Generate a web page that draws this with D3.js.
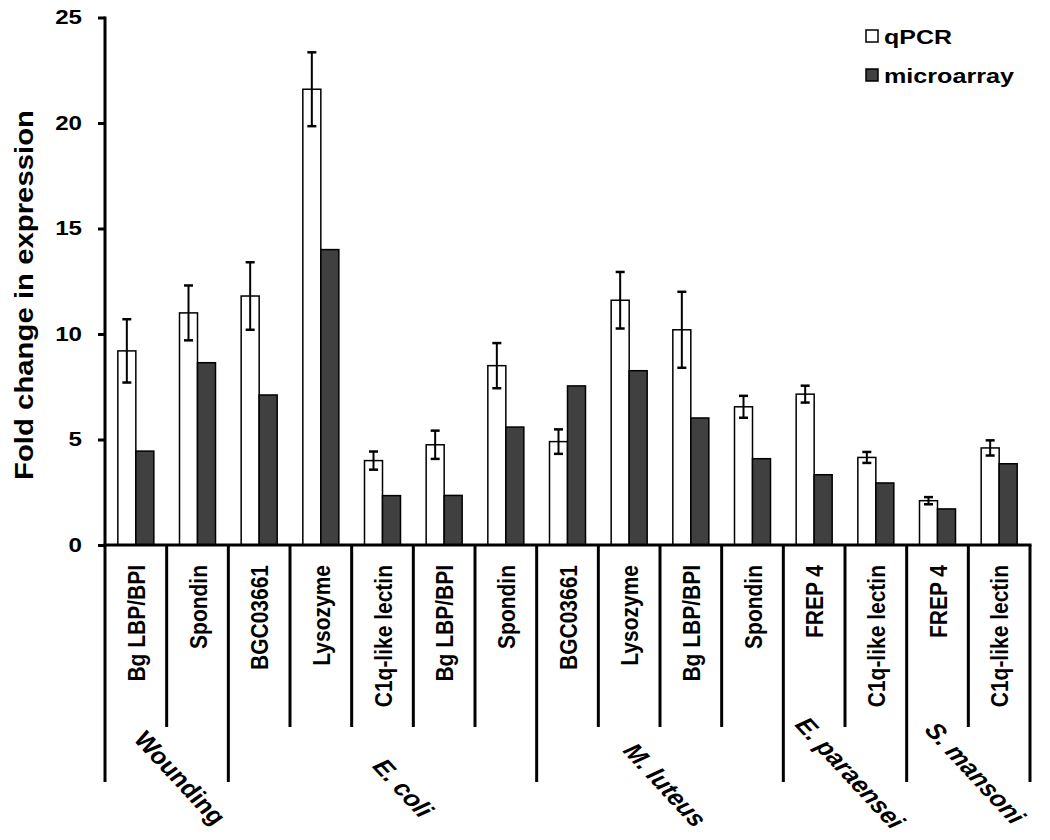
<!DOCTYPE html>
<html>
<head>
<meta charset="utf-8">
<script src="https://cdn.jsdelivr.net/npm/d3@7"></script>
<style>
  html, body { margin: 0; padding: 0; background: #fff; }
  svg { display: block; font-family: "Liberation Sans", Arial, sans-serif; }
</style>
</head>
<body>
<svg id="chart" width="1050" height="840"></svg>
<script>
// ---- data ----
const categories = ["Bg LBP/BPI", "Spondin", "BGC03661", "Lysozyme", "C1q-like lectin",
  "Bg LBP/BPI", "Spondin", "BGC03661", "Lysozyme", "Bg LBP/BPI", "Spondin",
  "FREP 4", "C1q-like lectin", "FREP 4", "C1q-like lectin"];
const groupNames = ["Wounding", "E. coli", "M. luteus", "E. paraensei", "S. mansoni"];
const groupItalic = [false, true, true, true, true];
const groupSizes = [2, 5, 4, 2, 2];
const qpcr = [9.2, 11.0, 11.8, 21.6, 4.0, 4.75, 8.5, 4.9, 11.6, 10.2, 6.55, 7.15, 4.15, 2.1, 4.6];
const qpcrErr = [1.5, 1.3, 1.6, 1.75, 0.43, 0.67, 1.07, 0.58, 1.34, 1.8, 0.52, 0.4, 0.26, 0.17, 0.36];
const microarray = [4.45, 8.64, 7.11, 14.0, 2.34, 2.35, 5.59, 7.54, 8.26, 6.02, 4.09, 3.33, 2.94, 1.71, 3.85];
const yTicks = [0, 5, 10, 15, 20, 25];
const seriesNames = ["qPCR", "microarray"];

// ---- layout ----
const svg = d3.select("#chart");
const plotL = 105, plotR = 1030, plotT = 17.5, plotB = 545;
const x = d3.scaleBand().domain(d3.range(categories.length)).range([plotL, plotR]).padding(0);
const y = d3.scaleLinear().domain([0, 25]).range([plotB, plotT]);
const bw = 18;
const darkFill = "#404040";
const stretch = 1.15;

// y axis
const yAxis = svg.append("g").attr("transform", `translate(${plotL},0)`)
  .call(d3.axisLeft(y).tickValues(yTicks).tickSize(7).tickFormat(d3.format("d")));
yAxis.select(".domain").remove();
yAxis.selectAll(".tick line").attr("stroke", "#000").attr("stroke-width", 3);
yAxis.selectAll(".tick text").remove();
yTicks.forEach(t => {
  svg.append("text")
    .attr("transform", `translate(82,${y(t)}) scale(${stretch},1)`)
    .attr("text-anchor", "end").attr("dominant-baseline", "central")
    .attr("font-size", 21).attr("font-weight", "bold").attr("fill", "#000")
    .text(t);
});
svg.append("line").attr("x1", plotL).attr("x2", plotL).attr("y1", plotT - 1).attr("y2", plotB + 1.5)
  .attr("stroke", "#000").attr("stroke-width", 3);

// y title
svg.append("text")
  .attr("transform", `translate(24,295) scale(${stretch},1) rotate(-90)`)
  .attr("text-anchor", "middle").attr("dominant-baseline", "central")
  .attr("font-size", 23).attr("font-weight", "bold")
  .attr("textLength", 370).attr("lengthAdjust", "spacingAndGlyphs")
  .text("Fold change in expression");

// bars
const idx = d3.range(categories.length);
svg.append("g").selectAll("rect").data(idx).join("rect")
  .attr("x", i => x(i) + x.bandwidth() / 2 - bw)
  .attr("y", i => y(qpcr[i]))
  .attr("width", bw).attr("height", i => plotB - y(qpcr[i]))
  .attr("fill", "#fff").attr("stroke", "#000").attr("stroke-width", 1.5);
svg.append("g").selectAll("rect").data(idx).join("rect")
  .attr("x", i => x(i) + x.bandwidth() / 2)
  .attr("y", i => y(microarray[i]))
  .attr("width", bw).attr("height", i => plotB - y(microarray[i]))
  .attr("fill", darkFill).attr("stroke", "#000").attr("stroke-width", 1.5);

// error bars
const eg = svg.append("g").attr("stroke", "#000").attr("stroke-width", 2);
idx.forEach(i => {
  const cx = x(i) + x.bandwidth() / 2 - bw / 2;
  const y1 = y(qpcr[i] + qpcrErr[i]), y2 = y(qpcr[i] - qpcrErr[i]);
  eg.append("line").attr("x1", cx).attr("x2", cx).attr("y1", y1).attr("y2", y2);
  eg.append("line").attr("x1", cx - 4.5).attr("x2", cx + 4.5).attr("y1", y1).attr("y2", y1).attr("stroke-width", 2.5);
  eg.append("line").attr("x1", cx - 4.5).attr("x2", cx + 4.5).attr("y1", y2).attr("y2", y2).attr("stroke-width", 2.5);
});

// x axis line
svg.append("line").attr("x1", plotL - 1.5).attr("x2", plotR + 1.5).attr("y1", plotB).attr("y2", plotB)
  .attr("stroke", "#000").attr("stroke-width", 3);

// dividers
const groupBounds = [0];
groupSizes.forEach((s, k) => groupBounds.push(groupBounds[k] + s));
d3.range(categories.length + 1).forEach(i => {
  const xx = i < categories.length ? x(i) : plotR;
  const isGroup = groupBounds.includes(i);
  svg.append("line").attr("x1", xx).attr("x2", xx).attr("y1", plotB).attr("y2", isGroup ? 782 : 727)
    .attr("stroke", "#000").attr("stroke-width", 3);
});

// category labels
idx.forEach(i => {
  svg.append("text")
    .attr("transform", `translate(${x(i) + x.bandwidth() / 2 + 1},565) scale(${stretch},1) rotate(-90)`)
    .attr("text-anchor", "end").attr("dominant-baseline", "central")
    .attr("font-size", 21).attr("font-weight", "bold")
    .text(categories[i]);
});

// group labels
const groupCenters = [[180, 778], [403, 788], [665, 785], [850, 773], [975, 773]];
groupNames.forEach((g, k) => {
  svg.append("text")
    .attr("transform", `translate(${groupCenters[k][0]},${groupCenters[k][1]}) scale(${stretch},1) rotate(51)`)
    .attr("text-anchor", "middle").attr("dominant-baseline", "central")
    .attr("font-size", 23).attr("font-weight", "bold")
    .attr("font-style", groupItalic[k] ? "italic" : "normal")
    .text(g);
});

// legend
const legendY = [36, 75];
const legendFill = ["#fff", darkFill];
const legendLen = [68, 130];
seriesNames.forEach((s, k) => {
  svg.append("rect").attr("x", 866).attr("y", legendY[k] - 6).attr("width", 12).attr("height", 12)
    .attr("fill", legendFill[k]).attr("stroke", "#000").attr("stroke-width", 1.5);
  svg.append("text").attr("x", 884).attr("y", legendY[k] + 8)
    .attr("font-size", 21).attr("font-weight", "bold")
    .attr("textLength", legendLen[k]).attr("lengthAdjust", "spacingAndGlyphs")
    .text(s);
});
</script>
</body>
</html>
